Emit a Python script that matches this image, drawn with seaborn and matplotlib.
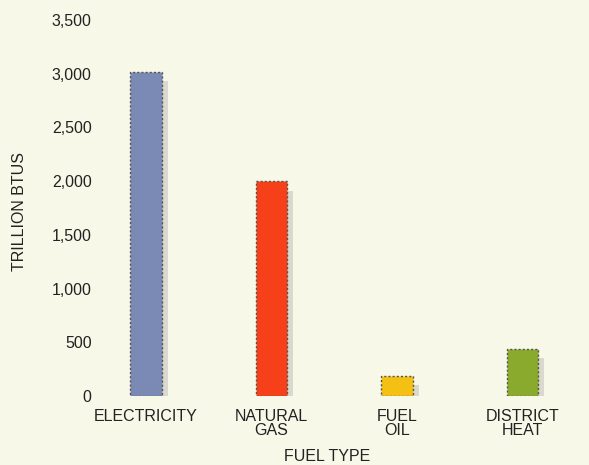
import matplotlib
matplotlib.use("Agg")
import matplotlib.pyplot as plt
from matplotlib.patches import Rectangle
import seaborn as sns
import pandas as pd

fuel_types = ["ELECTRICITY", "NATURAL\nGAS", "FUEL\nOIL", "DISTRICT\nHEAT"]
trillion_btus = [3020, 2000, 190, 440]
bar_colors = ["#7a8ab4", "#f5401a", "#f4c013", "#8aaa2e"]
y_ticks = [0, 500, 1000, 1500, 2000, 2500, 3000, 3500]

bg = "#f8f8e9"
sns.set_style("white")
plt.rcParams["font.family"] = ["Liberation Sans", "DejaVu Sans"]

df = pd.DataFrame({"fuel": fuel_types, "btus": trillion_btus})

fig = plt.figure(figsize=(5.89, 4.65), dpi=100, facecolor=bg)
ax = fig.add_axes([100 / 589, 69 / 465, 489 / 589, 376 / 465])
ax.set_facecolor(bg)

sns.barplot(data=df, x="fuel", y="btus", hue="fuel", palette=bar_colors,
            saturation=1, width=0.25, legend=False, ax=ax, zorder=3,
            edgecolor="#55554f", linewidth=1.0, linestyle=(0, (1.5, 1.5)))

# soft grey drop shadow to the right of every bar
for p in ax.patches[:len(fuel_types)]:
    x, w, h = p.get_x(), p.get_width(), p.get_height()
    ax.add_patch(Rectangle((x + w, 0), w * 0.2, h - 90,
                           facecolor="#d9d9d0", edgecolor="none", zorder=2))

ax.set_xlim(-0.367, 3.53)
ax.set_ylim(0, 3500)
ax.set_yticks(y_ticks)
ax.set_yticklabels([f"{v:,}" for v in y_ticks])
sns.despine(ax=ax, left=True, bottom=True)
ax.tick_params(length=0, labelsize=11.5, colors="#222222")
ax.tick_params(axis="y", pad=6)
ax.tick_params(axis="x", pad=9)
for lbl in ax.get_xticklabels():
    lbl.set_linespacing(0.95)

ax.set_xlabel("FUEL TYPE", fontsize=11.5, color="#222222")
ax.set_ylabel("TRILLION BTUS", fontsize=11.5, color="#222222")
ax.xaxis.set_label_coords(0.464, -0.14)
ax.yaxis.set_label_coords(-0.15, 0.49)

fig.savefig("out.png", dpi=100, facecolor=bg)
